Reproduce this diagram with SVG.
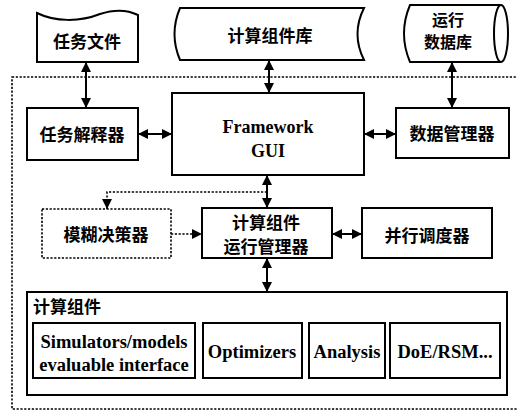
<svg xmlns="http://www.w3.org/2000/svg" width="517" height="411" viewBox="0 0 517 411">
<style>
.bx{fill:#fff;stroke:#000;stroke-width:2}
.dbx{fill:#fff;stroke:#000;stroke-width:1.6;stroke-dasharray:2.2 1.6}
.cn{font-family:"Noto Sans CJK SC","Noto Sans",sans-serif;font-size:17px;font-weight:bold;text-anchor:middle;fill:#000}
.en{font-family:"Liberation Serif","Times New Roman","DejaVu Serif",serif;font-weight:bold;text-anchor:middle;fill:#000}
.ln{fill:none;stroke:#000;stroke-width:2}
.dl{fill:none;stroke:#000;stroke-width:1.6;stroke-dasharray:2.2 1.6}
</style>
<defs>
<marker id="ah" viewBox="0 0 10 10" refX="10" refY="5" markerWidth="10" markerHeight="10" markerUnits="userSpaceOnUse" orient="auto-start-reverse">
<path d="M0,0 L10,5 L0,10 Z" fill="#000"/>
</marker>
</defs>
<rect width="517" height="411" fill="#fff"/>
<rect id="boundary" x="12" y="77" width="510" height="332" class="dbx" style="fill:none"/>
<g id="connectors">
<line x1="86" y1="62" x2="86" y2="108" class="ln" marker-start="url(#ah)" marker-end="url(#ah)"/>
<line x1="269" y1="60" x2="269" y2="93" class="ln" marker-start="url(#ah)" marker-end="url(#ah)"/>
<line x1="452" y1="62" x2="452" y2="108" class="ln" marker-start="url(#ah)" marker-end="url(#ah)"/>
<line x1="138" y1="134" x2="172" y2="134" class="ln" marker-start="url(#ah)" marker-end="url(#ah)"/>
<line x1="364" y1="134" x2="396" y2="134" class="ln" marker-start="url(#ah)" marker-end="url(#ah)"/>
<line x1="267" y1="175" x2="267" y2="208" class="ln" marker-start="url(#ah)" marker-end="url(#ah)"/>
<polyline points="267,192 107,192 107,209" class="dl" marker-end="url(#ah)"/>
<line x1="171" y1="234" x2="202" y2="234" class="dl" marker-end="url(#ah)"/>
<line x1="332" y1="234" x2="362" y2="234" class="ln" marker-start="url(#ah)" marker-end="url(#ah)"/>
<line x1="267" y1="258" x2="267" y2="292" class="ln" marker-start="url(#ah)" marker-end="url(#ah)"/>
</g>
<g id="task-file">
<path d="M37,13 C55,22 80,22 100,14 C115,9 128,10 138,15 L138,62 L37,62 Z" class="bx"/>
<text x="87" y="48" class="cn">任务文件</text>
</g>
<g id="component-lib">
<path d="M180,8 L364,8 Q351,34 364,60 L180,60 Q169,34 180,8 Z" class="bx"/>
<text x="270" y="42" class="cn">计算组件库</text>
</g>
<g id="runtime-db">
<path d="M410,5 L501,5 A7,28.5 0 0 1 501,62 L410,62 Q398,33.5 410,5 Z" class="bx"/>
<path d="M501,5 A7,28.5 0 0 0 501,62" class="ln"/>
<text x="448" y="26" class="cn" font-size="16" style="font-size:16px">运行</text>
<text x="448" y="48" class="cn" style="font-size:16px">数据库</text>
</g>
<g id="task-interpreter">
<rect x="27" y="108" width="111" height="52" class="bx"/>
<text x="82" y="141" class="cn">任务解释器</text>
</g>
<g id="framework-gui">
<rect x="172" y="93" width="192" height="82" class="bx"/>
<text x="268" y="133" class="en" font-family="Liberation Serif, serif" style="font-size:18px">Framework</text>
<text x="268" y="157" class="en" font-family="Liberation Serif, serif" style="font-size:18px">GUI</text>
</g>
<g id="data-manager">
<rect x="396" y="108" width="113" height="50" class="bx"/>
<text x="452" y="140" class="cn">数据管理器</text>
</g>
<g id="fuzzy-decider">
<rect x="42" y="209" width="129" height="49" class="dbx"/>
<text x="106" y="241" class="cn">模糊决策器</text>
</g>
<g id="runtime-manager">
<rect x="202" y="208" width="130" height="50" class="bx"/>
<text x="266" y="229" class="cn">计算组件</text>
<text x="266" y="253" class="cn">运行管理器</text>
</g>
<g id="parallel-scheduler">
<rect x="362" y="208" width="130" height="50" class="bx"/>
<text x="427" y="242" class="cn">并行调度器</text>
</g>
<g id="components">
<rect x="27" y="292" width="480" height="103" class="bx"/>
<text x="33" y="313" class="cn" style="text-anchor:start">计算组件</text>
</g>
<g id="simulators">
<rect x="33" y="323" width="162" height="55" class="bx"/>
<text x="114" y="348" class="en" style="font-size:18.5px">Simulators/models</text>
<text x="114" y="371" class="en" style="font-size:18.5px">evaluable interface</text>
</g>
<g id="optimizers">
<rect x="203" y="323" width="99" height="55" class="bx"/>
<text x="252" y="358" class="en" style="font-size:18.5px">Optimizers</text>
</g>
<g id="analysis">
<rect x="309" y="323" width="76" height="55" class="bx"/>
<text x="347" y="358" class="en" style="font-size:18.5px">Analysis</text>
</g>
<g id="doe-rsm">
<rect x="390" y="323" width="110" height="55" class="bx"/>
<text x="445" y="358" class="en" style="font-size:18.5px">DoE/RSM...</text>
</g>
</svg>
